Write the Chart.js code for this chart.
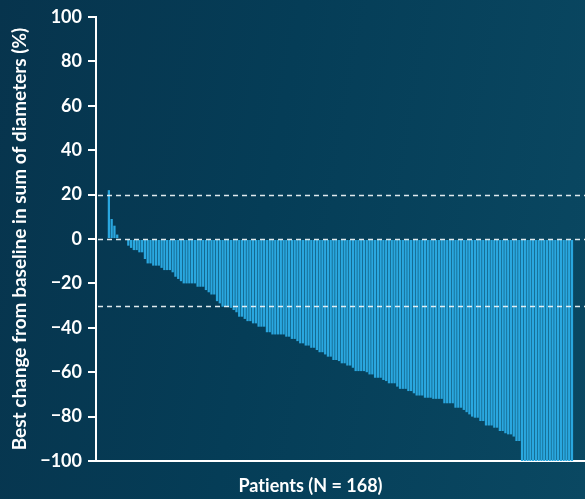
<!DOCTYPE html>
<html>
<head>
<meta charset="utf-8">
<script src="https://cdn.jsdelivr.net/npm/chart.js@4.4.1/dist/chart.umd.min.js"></script>
<style>
  html, body { margin: 0; padding: 0; }
  body {
    width: 585px; height: 499px; overflow: hidden;
    background: linear-gradient(100deg, #07344d 0%, #053d57 45%, #0a4862 100%);
  }
</style>
</head>
<body>
<canvas id="waterfall" width="585" height="499"></canvas>
<script>
// best change from baseline per patient, sorted
const changes = [
  22, 9, 6, 2, 0, 0, 0,
  -3, -4, -5, -5, -6, -6, -9, -11, -11, -12, -12, -12, -13,
  -14, -14, -14, -15, -17, -18, -19,
  -20, -20, -20, -20, -20, -21.5, -21.5, -21.5, -23, -24, -25, -25, -28, -29,
  -30.5, -30.5, -30.5, -31, -32, -33, -35, -35, -36, -37, -37, -38, -38,
  -39.5, -39.5, -39.5, -42, -42, -43, -43, -43, -43, -43, -44, -44, -45, -45,
  -46, -47, -47, -48, -48, -49, -49, -50, -51, -51, -52, -53, -53,
  -54.5, -54.5, -55, -56, -56, -57, -57, -58, -59.5, -59.5, -59.5, -59.5,
  -60, -61, -61, -62.5, -62.5, -62.5, -63.5, -64, -65, -65, -65, -66.5,
  -67.5, -67.5, -67.5, -68.5, -68.5, -69.5, -70.5, -70.5, -70.5, -71.5, -71.5, -71.5,
  -72, -72, -72, -72, -74, -74, -74, -74, -76, -76, -76, -77, -78, -79, -80,
  -80.5, -80.5, -82, -82, -84, -84, -84, -85, -85, -86.5, -86.5, -87.5, -88, -88, -89, -91, -91,
  -100, -100, -100, -100, -100, -100, -100, -100, -100, -100,
  -100, -100, -100, -100, -100, -100, -100, -100, -100
];
const patients = changes.map((v, i) => i + 1);
const yTicks = [-100, -80, -60, -40, -20, 0, 20, 40, 60, 80, 100];
const refLines = [20, 0, -30];
// zero-width non-joiner keeps Lato from fusing "ti" into a ligature
const xTitle = 'Pat\u200Cients (N = 168)';
const yTitle = 'Best change from baseline in sum of diameters (%)';

const FONT = 'Lato, "Open Sans", sans-serif';

const refLinePlugin = {
  id: 'refLines',
  afterDatasetsDraw(chart) {
    const {ctx, chartArea, scales} = chart;
    ctx.save();
    ctx.strokeStyle = 'rgba(235,242,246,0.95)';
    ctx.lineWidth = 1.5;
    ctx.setLineDash([5, 4]);
    refLines.forEach(v => {
      const y = Math.round(scales.y.getPixelForValue(v)) + 0.5;
      ctx.beginPath();
      ctx.moveTo(chartArea.left + 2, y);
      ctx.lineTo(chartArea.right, y);
      ctx.stroke();
    });
    ctx.restore();
  },
  afterDraw(chart) {
    // x title sits a bit left of the plot centre in the original
    const {ctx, chartArea} = chart;
    ctx.save();
    ctx.fillStyle = '#ffffff';
    ctx.font = 'bold 18px ' + FONT;
    ctx.textAlign = 'center';
    ctx.textBaseline = 'middle';
    ctx.fillText(xTitle, (chartArea.left + chartArea.right) / 2 - 30, chartArea.bottom + 25);
    ctx.restore();
  }
};

const ctx = document.getElementById('waterfall').getContext('2d');
new Chart(ctx, {
  type: 'bar',
  data: {
    datasets: [{
      data: changes.map((v, i) => ({x: patients[i], y: v})),
      backgroundColor: '#2aa7df',
      borderWidth: 0,
      barPercentage: 0.82,
      categoryPercentage: 1
    }]
  },
  options: {
    responsive: false,
    animation: false,
    devicePixelRatio: 1,
    layout: {padding: {top: 17, right: 0, left: 0, bottom: 0}},
    plugins: {legend: {display: false}, tooltip: {enabled: false}},
    scales: {
      x: {
        type: 'linear',
        offset: false,
        min: -3.65,
        max: 172.7,
        ticks: {display: false},
        grid: {display: false},
        border: {display: true, color: '#ffffff', width: 2},
        afterFit: s => { s.height = 38; }
      },
      y: {
        min: -100,
        max: 100,
        afterBuildTicks: s => { s.ticks = yTicks.map(v => ({value: v})); },
        ticks: {
          color: '#ffffff',
          font: {family: FONT, size: 18, weight: 'bold'},
          padding: 6,
          callback: v => v < 0 ? '\u2212' + Math.abs(v) : String(v)
        },
        grid: {display: true, drawOnChartArea: false, drawTicks: true, tickLength: 8, color: '#ffffff', lineWidth: 2},
        border: {display: true, color: '#ffffff', width: 2},
        title: {
          display: true,
          text: yTitle,
          color: '#ffffff',
          font: {family: FONT, size: 19, weight: 'bold'},
          padding: {top: 8, bottom: 0}
        },
        afterFit: s => { s.width = 96; }
      }
    }
  },
  plugins: [refLinePlugin]
});
</script>
</body>
</html>
